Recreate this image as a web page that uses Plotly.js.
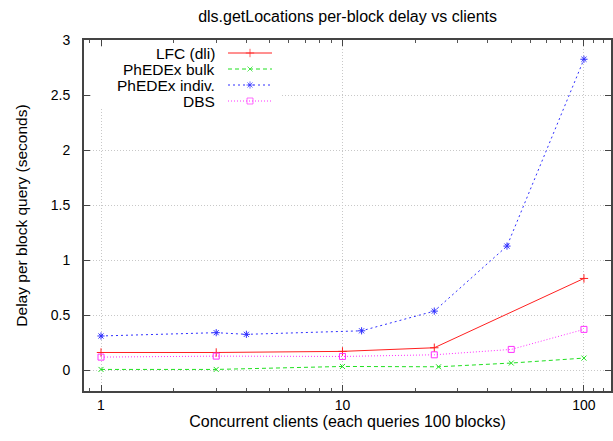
<!DOCTYPE html>
<html><head><meta charset="utf-8">
<script src="https://cdn.plot.ly/plotly-3.0.1.min.js"></script>
<style>body{margin:0;padding:0;background:#fff}#c{width:613px;height:441px}</style>
</head><body><div id="c"></div>
<script>
const lfcX = [1, 3, 10, 24, 100];
const lfcY = [0.16, 0.16, 0.17, 0.203, 0.833];
const bulkX = [1, 3, 10, 25, 50, 100];
const bulkY = [0.006, 0.006, 0.033, 0.03, 0.064, 0.109];
const indivX = [1, 3, 4, 12, 24, 48, 100];
const indivY = [0.31, 0.34, 0.325, 0.357, 0.536, 1.127, 2.825];
const dbsX = [1, 3, 10, 24, 50, 100];
const dbsY = [0.118, 0.127, 0.124, 0.139, 0.188, 0.37];
const seriesNames = ['LFC (dli)', 'PhEDEx bulk', 'PhEDEx indiv.', 'DBS'];
const xTickVals = [1, 10, 100];
const xTickText = ['1', '10', '100'];
const yTickVals = [0, 0.5, 1, 1.5, 2, 2.5, 3];
const yTickText = ['0', '0.5', '1', '1.5', '2', '2.5', '3'];
const minorVals = [0.9,2,3,4,5,6,7,8,9,20,30,40,50,60,70,80,90,110,120,130];

const FONT = 'Liberation Sans, Arial, sans-serif';
const styles = [
  {color:'#ff2020', dash:'solid', symbol:'cross-thin-open', size:6},
  {color:'#20e020', dash:'4px,3px', symbol:'x-thin-open', size:5},
  {color:'#3030ff', dash:'2px,3px', symbol:'asterisk-open', size:6},
  {color:'#ff30ff', dash:'1px,2px', symbol:'square-open', size:6}
];
const data = [[lfcX,lfcY],[bulkX,bulkY],[indivX,indivY],[dbsX,dbsY]];
const traces = [];
data.forEach((d,i)=>{
  const s = styles[i];
  traces.push({x:d[0], y:d[1], type:'scatter', mode:'lines+markers', name:seriesNames[i],
    showlegend:false, cliponaxis:false,
    line:{color:s.color, width:1, dash:s.dash},
    marker:{symbol:s.symbol, size:s.size, color:s.color, line:{color:s.color, width:1}}});
});
// legend samples (overlay axis in plot-pixel units)
const rowY = [13, 29, 45, 61];
const annotations = [];
styles.forEach((s,i)=>{
  traces.push({x:[144,166,188], y:[rowY[i],rowY[i],rowY[i]], xaxis:'x2', yaxis:'y2',
    type:'scatter', mode:'lines+markers', showlegend:false, hoverinfo:'skip',
    line:{color:s.color, width:1, dash:s.dash},
    marker:{symbol:s.symbol, size:[0,s.size,0], color:s.color, line:{color:s.color, width:1}}});
  annotations.push({xref:'x2', yref:'y2', x:133, y:rowY[i], xanchor:'right', yanchor:'middle',
    text:seriesNames[i], showarrow:false, font:{size:15.5, color:'#000', family:FONT}});
});

const layout = {
  width:613, height:441,
  margin:{l:84, r:2, t:40, b:50},
  paper_bgcolor:'#fff', plot_bgcolor:'#fff',
  font:{family:FONT, size:14, color:'#000'},
  title:{text:'dls.getLocations per-block delay vs clients', x:0.567, xanchor:'center', y:0.962, yanchor:'middle', font:{size:16}},
  xaxis:{type:'log', range:[-0.0704, 2.112], tickvals:xTickVals, ticktext:xTickText,
    showgrid:true, gridcolor:'#c8c8c8', griddash:'1px,2px', gridwidth:1,
    showline:true, linecolor:'#444', linewidth:2, mirror:'ticks',
    ticks:'inside', ticklen:6, tickcolor:'#444', tickfont:{size:14}, zeroline:false,
    ticklabelstandoff:0,
    minor:{tickvals:minorVals, ticks:'inside', ticklen:3, tickcolor:'#555', showgrid:false},
    title:{text:'Concurrent clients (each queries 100 blocks)', font:{size:16}, standoff:0}},
  yaxis:{range:[-0.19, 3.0], tickvals:yTickVals, ticktext:yTickText,
    showgrid:true, gridcolor:'#c8c8c8', griddash:'1px,2px', gridwidth:1,
    showline:true, linecolor:'#444', linewidth:2, mirror:'ticks',
    ticks:'inside', ticklen:6, tickcolor:'#444', tickfont:{size:14}, zeroline:false,
    ticklabelstandoff:9,
    title:{text:'Delay per block query (seconds)', font:{size:15.5}, standoff:19}},
  xaxis2:{overlaying:'x', range:[0,527], visible:false, fixedrange:true},
  yaxis2:{overlaying:'y', range:[351,0], visible:false, fixedrange:true},
  shapes:[
    {type:'rect', xref:'x2', yref:'y2', x0:14, x1:20, y0:7, y1:69, fillcolor:'#fff', line:{width:0}, layer:'above'},
    {type:'rect', xref:'x2', yref:'y2', x0:7, x1:196, y0:53.5, y1:56.5, fillcolor:'#fff', line:{width:0}, layer:'above'}
  ],
  annotations:annotations,
  showlegend:false
};
Plotly.newPlot('c', traces, layout, {staticPlot:true, displayModeBar:false});
</script></body></html>
